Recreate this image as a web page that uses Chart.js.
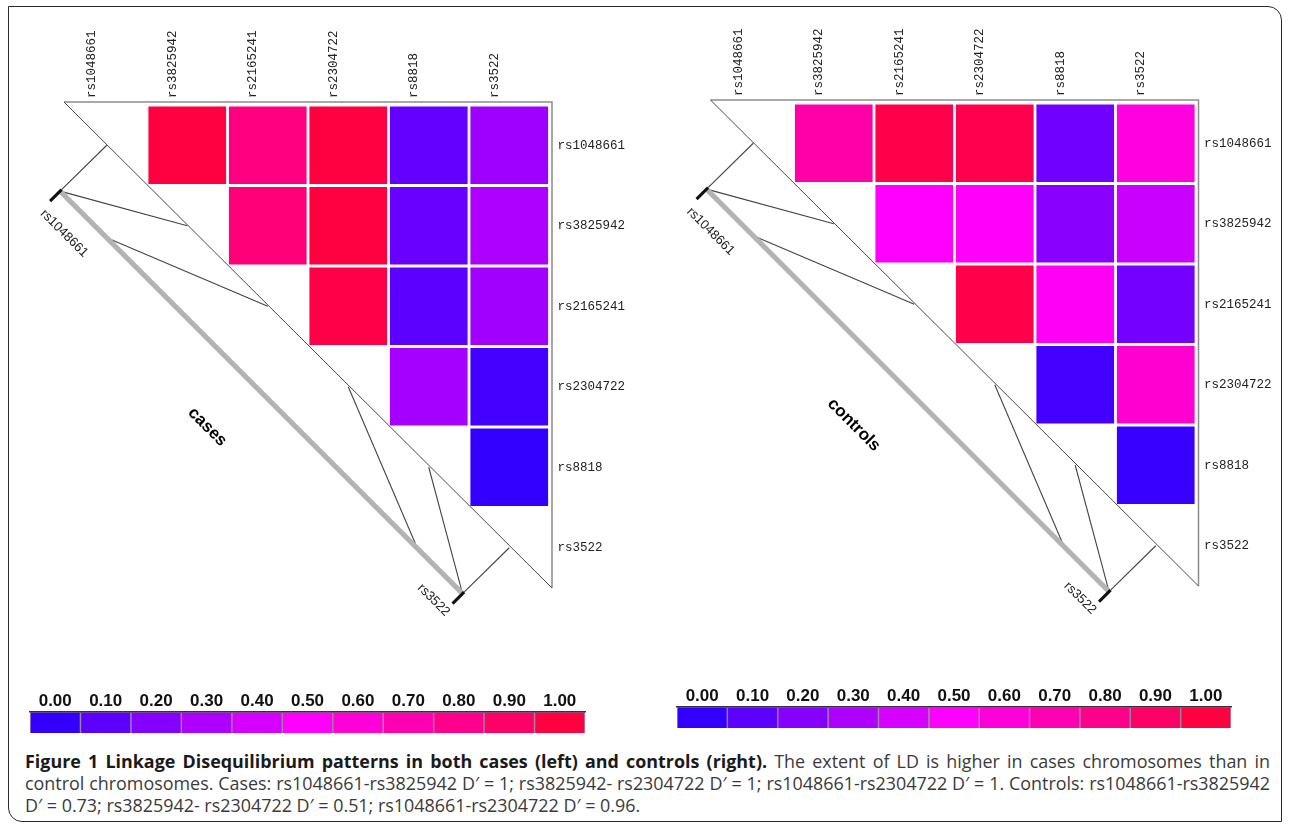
<!DOCTYPE html>
<html>
<head>
<meta charset="utf-8">
<script src="https://cdn.jsdelivr.net/npm/chart.js@4.4.1/dist/chart.umd.min.js"></script>
<style>
    html, body { margin: 0; padding: 0; background: #fff; }
    #page { position: relative; width: 1290px; height: 833px; overflow: hidden; background: #fff; }
    #frame {
        position: absolute; left: 8px; top: 6px; width: 1274px; height: 816px;
        border: 1.5px solid #2b2b2b; border-radius: 0 14px 0 14px; box-sizing: border-box;
    }
    canvas { position: absolute; }
    #caption {
        position: absolute; left: 25px; top: 750px; width: 1245px;
        font-family: 'Open Sans', 'Noto Sans', sans-serif; font-size: 16px; line-height: 22px; color: #3a3a3a;
    }
    #caption .ln { white-space: nowrap; }
    #caption .ln span { display: inline-block; white-space: nowrap; }
    #caption b { color: #1a1a1a; }
</style>
</head>
<body>
<div id="page">
    <div id="frame"></div>
    <canvas id="cases-chart" width="650" height="640" style="left:0;top:0"></canvas>
    <canvas id="controls-chart" width="645" height="640" style="left:645px;top:0"></canvas>
    <canvas id="cases-scale" width="620" height="70" style="left:0;top:676px"></canvas>
    <canvas id="controls-scale" width="650" height="70" style="left:640px;top:671px"></canvas>
    <div id="caption">
        <div class="ln"><span class="fit"><b>Figure 1 Linkage Disequilibrium patterns in both cases (left) and controls (right).</b> The extent of LD is higher in cases chromosomes than in</span></div>
        <div class="ln"><span class="fit" id="cap-ref">control chromosomes. Cases: rs1048661-rs3825942 D′ = 1; rs3825942- rs2304722 D′ = 1; rs1048661-rs2304722 D′ = 1. Controls: rs1048661-rs3825942</span></div>
        <div class="ln"><span>D′ = 0.73; rs3825942- rs2304722 D′ = 0.51; rs1048661-rs2304722 D′ = 0.96.</span></div>
    </div>
</div>
<script>
(function() {
    'use strict';

    // SNP markers (columns / rows of the LD matrix)
    const snps = ['rs1048661', 'rs3825942', 'rs2165241', 'rs2304722', 'rs8818', 'rs3522'];

    // D' values (row = first marker, column = second)
    const casesLD = [
        [null, 1.00, 0.83, 1.00, 0.12, 0.26],
        [null, null, 0.85, 1.00, 0.13, 0.30],
        [null, null, null, 0.98, 0.10, 0.27],
        [null, null, null, null, 0.28, 0.04],
        [null, null, null, null, null, 0.00],
        [null, null, null, null, null, null]
    ];
    const controlsLD = [
        [null, 0.73, 0.97, 0.96, 0.15, 0.58],
        [null, null, 0.50, 0.51, 0.21, 0.37],
        [null, null, null, 0.97, 0.52, 0.16],
        [null, null, null, null, 0.04, 0.62],
        [null, null, null, null, null, 0.01],
        [null, null, null, null, null, null]
    ];

    // relative marker positions along the chromosome bar (0 = first, 1 = last)
    const markerPos = [0, 0, 0.116, 0.888, 1, 1];

    // colour key
    const legendTicks = ['0.00', '0.10', '0.20', '0.30', '0.40', '0.50', '0.60', '0.70', '0.80', '0.90', '1.00'];
    const legendValues = [0, 0.1, 0.2, 0.3, 0.4, 0.5, 0.6, 0.7, 0.8, 0.9, 1.0];

    // blue -> magenta -> red
    function ldColor(v) {
        if (v <= 0.5) {
            const r = Math.round(51 + 204 * v / 0.5);
            return 'rgb(' + r + ',0,255)';
        }
        const b = Math.round(255 - 191 * (v - 0.5) / 0.5);
        return 'rgb(255,0,' + b + ')';
    }

    const monoFont = { family: 'Liberation Mono', size: 12.5 };

    // Triangle outline, chromosome bar, marker connectors and labels
    const ldDecor = {
        id: 'ldDecor',
        afterDraw: function(chart, args, opts) {
            const ctx = chart.ctx;
            const a = chart.chartArea;
            const ys = chart.scales.y;
            const n = snps.length;
            const cw = (a.right - a.left) / n;
            const gx = function(u) { return a.left + u * cw; };
            const gy = function(u) { return ys.getPixelForValue(u); };
            const d = Math.SQRT1_2;

            const ax = gx(0) - 2.5, ay = gy(0) - 3;
            const rx = gx(n) + 2.5, by = gy(n);

            ctx.save();

            // Outline
            ctx.lineWidth = 1.5;
            ctx.strokeStyle = '#8c8c8c';
            ctx.beginPath();
            ctx.moveTo(ax, ay);
            ctx.lineTo(rx, ay);
            ctx.lineTo(rx, by);
            ctx.stroke();
            ctx.lineWidth = 1;
            ctx.strokeStyle = '#4a4a4a';
            ctx.beginPath();
            ctx.moveTo(ax, ay);
            ctx.lineTo(rx, by);
            ctx.stroke();

            // Chromosome bar runs parallel to the diagonal
            const x0 = -0.08, x1 = n - 1.08, off = 1.15;
            const chr = function(t) {
                const u = x0 + t * (x1 - x0);
                return [gx(u), gy(u + off)];
            };

            // Connectors from marker position to the diagonal
            ctx.lineWidth = 1.1;
            ctx.strokeStyle = '#444';
            markerPos.forEach(function(t, k) {
                const p = chr(t);
                ctx.beginPath();
                ctx.moveTo(p[0], p[1]);
                ctx.lineTo(gx(k + 0.5), gy(k + 0.5));
                ctx.stroke();
            });

            const s = chr(0), e = chr(1);
            ctx.lineWidth = 5;
            ctx.strokeStyle = '#b3b3b3';
            ctx.beginPath();
            ctx.moveTo(s[0], s[1]);
            ctx.lineTo(e[0], e[1]);
            ctx.stroke();

            // End ticks
            ctx.lineWidth = 3;
            ctx.strokeStyle = '#111';
            [s, e].forEach(function(p) {
                ctx.beginPath();
                ctx.moveTo(p[0] + 1.5, p[1] - 1.5);
                ctx.lineTo(p[0] - 10, p[1] + 10);
                ctx.stroke();
            });

            // Rotated marker names
            ctx.fillStyle = '#222';
            ctx.font = '13px "Liberation Sans"';
            const diagText = function(txt, p, along, perp, align) {
                const x = p[0] + along * d - perp * d;
                const y = p[1] + along * d + perp * d;
                ctx.save();
                ctx.translate(x, y);
                ctx.rotate(Math.PI / 4);
                ctx.textAlign = align;
                ctx.textBaseline = 'middle';
                ctx.fillText(txt, 0, 0);
                ctx.restore();
            };
            diagText(snps[0], s, 2, 27, 'left');
            diagText(snps[n - 1], e, 4, 25, 'right');

            // Panel title
            ctx.save();
            ctx.translate(gx(1.75), gy(4.0));
            ctx.rotate(Math.PI / 4);
            ctx.font = 'bold 17px "Liberation Sans"';
            ctx.fillStyle = '#000';
            ctx.textAlign = 'center';
            ctx.textBaseline = 'middle';
            ctx.fillText(opts.title, 0, 0);
            ctx.restore();

            ctx.restore();
        }
    };

    function makeMatrix(canvasId, ld, title, padding) {
        const datasets = ld.map(function(row, i) {
            return {
                data: row.map(function(v) { return v === null ? null : [i + 0.02, i + 0.98]; }),
                backgroundColor: row.map(function(v) { return v === null ? 'rgba(0,0,0,0)' : ldColor(v); }),
                borderWidth: 0,
                grouped: false,
                barPercentage: 0.965,
                categoryPercentage: 1
            };
        });

        return new Chart(document.getElementById(canvasId), {
            type: 'bar',
            data: { labels: snps, datasets: datasets },
            options: {
                responsive: false,
                animation: false,
                devicePixelRatio: 1,
                layout: { padding: padding },
                plugins: {
                    legend: { display: false },
                    tooltip: { enabled: false },
                    ldDecor: { title: title }
                },
                scales: {
                    x: {
                        position: 'top',
                        grid: { display: false, drawTicks: false },
                        border: { display: false },
                        ticks: {
                            minRotation: 90,
                            maxRotation: 90,
                            autoSkip: false,
                            padding: 7,
                            color: '#222',
                            font: monoFont
                        },
                        afterFit: function(scale) { scale.height = 100; }
                    },
                    y: {
                        type: 'linear',
                        position: 'right',
                        min: 0,
                        max: snps.length,
                        reverse: true,
                        grid: { display: false, drawTicks: false },
                        border: { display: false },
                        afterBuildTicks: function(scale) {
                            scale.ticks = snps.map(function(_, i) { return { value: i + 0.5 }; });
                        },
                        ticks: {
                            padding: 8,
                            color: '#222',
                            font: monoFont,
                            callback: function(value, index) { return snps[index]; }
                        },
                        afterFit: function(scale) { scale.width = 90; }
                    }
                }
            },
            plugins: [ldDecor]
        });
    }

    function makeKey(canvasId, padding) {
        return new Chart(document.getElementById(canvasId), {
            type: 'bar',
            data: {
                labels: legendTicks,
                datasets: [{
                    data: legendValues.map(function() { return 1; }),
                    backgroundColor: legendValues.map(ldColor),
                    borderColor: 'rgba(70,20,70,0.45)',
                    borderWidth: 1,
                    barPercentage: 1,
                    categoryPercentage: 1
                }]
            },
            options: {
                responsive: false,
                animation: false,
                devicePixelRatio: 1,
                layout: { padding: padding },
                plugins: { legend: { display: false }, tooltip: { enabled: false } },
                scales: {
                    x: {
                        position: 'top',
                        grid: { display: false, drawTicks: false },
                        border: { display: true, color: '#333', width: 1.5 },
                        ticks: {
                            maxRotation: 0,
                            autoSkip: false,
                            padding: 0,
                            color: '#111',
                            font: { family: 'Liberation Sans', size: 17, weight: 'bold' }
                        },
                        afterFit: function(scale) { scale.height = 24; }
                    },
                    y: { display: false, min: 0, max: 1 }
                }
            }
        });
    }

    makeMatrix('cases-chart', casesLD, 'cases', { left: 66.5, top: 5, right: 10.5, bottom: 52 });
    makeMatrix('controls-chart', controlsLD, 'controls', { left: 68, top: 3, right: 4, bottom: 54 });
    makeKey('cases-scale', { left: 30, top: 12, right: 35, bottom: 13 });
    makeKey('controls-scale', { left: 37, top: 12, right: 59, bottom: 13 });

    // Caption: pick the size at which the second line fills the width, then justify
    const caption = document.getElementById('caption');
    const target = caption.clientWidth;
    const refLine = document.getElementById('cap-ref');
    const baseSize = 16;
    const natural = refLine.getBoundingClientRect().width;
    const size = Math.min(18, baseSize * (target - 4) / natural);
    caption.style.fontSize = size.toFixed(2) + 'px';

    document.querySelectorAll('#caption .fit').forEach(function(el) {
        const w = el.getBoundingClientRect().width;
        const spaces = (el.textContent.match(/ /g) || []).length;
        if (w < target && spaces > 0) {
            el.style.wordSpacing = ((target - w) / spaces) + 'px';
        } else if (w > target) {
            el.style.letterSpacing = ((target - w) / el.textContent.length) + 'px';
        }
    });
})();
</script>
</body>
</html>
